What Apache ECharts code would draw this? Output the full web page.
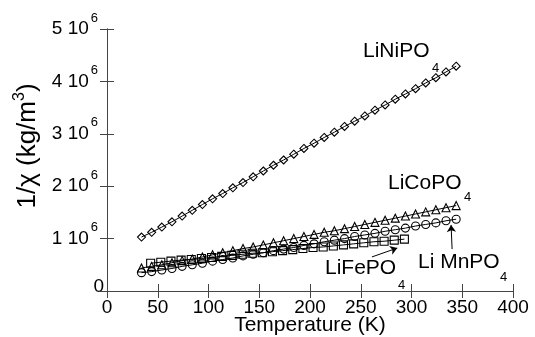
<!DOCTYPE html>
<html><head><meta charset="utf-8">
<script src="https://cdn.jsdelivr.net/npm/echarts@6/dist/echarts.min.js"></script>
<style>html,body{margin:0;padding:0;background:#fff}#c{width:535px;height:337px}</style>
</head><body><div id="c"></div>
<script>
// Temperature (K) and 1/chi values in units of 10^6 kg/m^3
const tempNi = [34,44,54,64,74,84,94,104,114,124,134,144,154,164,174,184,194,204,214,224,234,244,254,264,274,284,294,304,314,324,334,344];
const liNiPO4 = [1.03,1.12,1.22,1.32,1.43,1.54,1.65,1.76,1.86,1.97,2.07,2.18,2.29,2.40,2.50,2.61,2.72,2.82,2.93,3.03,3.14,3.24,3.34,3.45,3.55,3.66,3.76,3.86,3.97,4.07,4.18,4.29];
const tempCo = [34,44,54,64,74,84,94,104,114,124,134,144,154,164,174,184,194,204,214,224,234,244,254,264,274,284,294,304,314,324,334,344];
const liCoPO4 = [0.44,0.47,0.50,0.54,0.58,0.61,0.65,0.69,0.73,0.77,0.81,0.84,0.88,0.92,0.96,1.00,1.04,1.08,1.12,1.15,1.19,1.23,1.27,1.31,1.35,1.39,1.43,1.47,1.51,1.55,1.59,1.63];
const tempMn = [34,44,54,64,74,84,94,104,114,124,134,144,154,164,174,184,194,204,214,224,234,244,254,264,274,284,294,304,314,324,334,344];
const liMnPO4 = [0.35,0.37,0.40,0.43,0.47,0.50,0.53,0.57,0.60,0.63,0.67,0.70,0.73,0.77,0.80,0.83,0.87,0.90,0.94,0.97,1.00,1.04,1.07,1.10,1.14,1.17,1.20,1.24,1.27,1.30,1.34,1.37];
const tempFe = [43,53,63,73,83,93,103,113,123,133,143,153,163,173,183,193,203,213,223,233,243,253,263,273,283,293];
const liFePO4 = [0.53,0.55,0.57,0.59,0.60,0.62,0.64,0.66,0.68,0.70,0.72,0.73,0.75,0.77,0.79,0.81,0.83,0.84,0.86,0.88,0.90,0.92,0.94,0.95,0.97,0.99];
const yTickLabels = [['0',''],['1 10','6'],['2 10','6'],['3 10','6'],['4 10','6'],['5 10','6']];
const xTickLabels = ['0','50','100','150','200','250','300','350','400'];

const FONT = '"Liberation Sans", Arial, sans-serif';
const zip = (a, b) => a.map((v, i) => [v, b[i]]);
const mk = (name, t, v, sym, extra) => Object.assign({
  name, type: 'line', data: zip(t, v), symbol: sym, symbolSize: 8,
  showSymbol: true, animation: false,
  lineStyle: { color: '#000', width: 1 },
  itemStyle: { color: 'rgba(0,0,0,0)', borderColor: '#000', borderWidth: 1.1 },
  emphasis: { disabled: true }
}, extra || {});

const arrowLine = (pairs) => ({
  silent: true, symbol: ['none', 'arrow'], symbolSize: 7,
  lineStyle: { color: '#000', width: 1, type: 'solid' },
  label: { show: false },
  data: pairs.map(p => [{ coord: p[0] }, { coord: p[1] }])
});

const chart = echarts.init(document.getElementById('c'), null, { renderer: 'canvas' });
const axisLine = { show: true, lineStyle: { color: '#444', width: 1 } };
const ticks = { show: true, inside: true, length: 7, lineStyle: { color: '#444' } };
chart.setOption({
  animation: false,
  backgroundColor: '#fff',
  grid: { left: 107, right: 22, top: 29, bottom: 46, containLabel: false, outerBoundsMode: 'none' },
  xAxis: [{
    type: 'value', min: 0, max: 400, interval: 50, position: 'bottom',
    axisLine, axisTick: ticks, splitLine: { show: false },
    axisLabel: { fontSize: 19, color: '#000', fontFamily: FONT, margin: 7,
      formatter: (v) => xTickLabels[Math.round(v / 50)] },
    name: 'Temperature (K)', nameLocation: 'middle', nameGap: 24, nameMoveOverlap: false,
    nameTextStyle: { fontSize: 21, color: '#000', fontFamily: FONT }
  }, {
    type: 'value', min: 0, max: 400, interval: 50, position: 'top',
    axisLine, axisTick: ticks, splitLine: { show: false }, axisLabel: { show: false }
  }],
  yAxis: [{
    type: 'value', min: 0, max: 5, interval: 1, position: 'left',
    axisLine, axisTick: ticks, splitLine: { show: false },
    axisLabel: { margin: 9, color: '#000', fontFamily: FONT, showMinLabel: false,
      formatter: (v) => { const l = yTickLabels[Math.round(v)]; return l[1] ? '{a|' + l[0] + '}{b|' + l[1] + '}' : '{a|' + l[0] + '}'; },
      rich: { a: { fontSize: 19, fontFamily: FONT, color: '#000' },
              b: { fontSize: 13, fontFamily: FONT, color: '#000', padding: [0, 0, 22, 2] } } },
    name: '{a|1/χ (kg/m}{s|3}{a|)}', nameLocation: 'middle', nameGap: 63, nameRotate: 90, nameMoveOverlap: false,
    nameTextStyle: { color: '#000', fontFamily: FONT, padding: [0, 0, 0, 28],
      rich: { a: { fontSize: 26, fontFamily: FONT, color: '#000' },
              s: { fontSize: 16, fontFamily: FONT, color: '#000', padding: [0, 0, 16, 0] } } }
  }, {
    type: 'value', min: 0, max: 5, interval: 1, position: 'right',
    axisLine, axisTick: ticks, splitLine: { show: false }, axisLabel: { show: false }
  }],
  series: [
    mk('LiNiPO4', tempNi, liNiPO4, 'diamond'),
    mk('LiCoPO4', tempCo, liCoPO4, 'triangle'),
    mk('LiMnPO4', tempMn, liMnPO4, 'circle', { markLine: arrowLine([[[340, 0.80], [339, 1.26]]]) }),
    mk('LiFePO4', tempFe, liFePO4, 'rect', { markLine: arrowLine([[[261, 0.65], [286, 0.82]]]) })
  ],
  graphic: [
    { type: 'text', x: 104, y: 287, style: { text: yTickLabels[0][0], font: '19px ' + FONT, fill: '#000', align: 'right', verticalAlign: 'middle' } },
    { type: 'text', x: 363, y: 51, style: { text: 'LiNiPO', font: '21px ' + FONT, fill: '#000', verticalAlign: 'middle' } },
    { type: 'text', x: 432, y: 68, style: { text: '4', font: '13px ' + FONT, fill: '#000', verticalAlign: 'middle' } },
    { type: 'text', x: 388, y: 183, style: { text: 'LiCoPO', font: '21px ' + FONT, fill: '#000', verticalAlign: 'middle' } },
    { type: 'text', x: 464, y: 197, style: { text: '4', font: '13px ' + FONT, fill: '#000', verticalAlign: 'middle' } },
    { type: 'text', x: 325, y: 268, style: { text: 'LiFePO', font: '21px ' + FONT, fill: '#000', verticalAlign: 'middle' } },
    { type: 'text', x: 398, y: 285, style: { text: '4', font: '13px ' + FONT, fill: '#000', verticalAlign: 'middle' } },
    { type: 'text', x: 418, y: 262, style: { text: 'Li MnPO', font: '21px ' + FONT, fill: '#000', verticalAlign: 'middle' } },
    { type: 'text', x: 500, y: 277, style: { text: '4', font: '13px ' + FONT, fill: '#000', verticalAlign: 'middle' } }
  ]
});
</script></body></html>
